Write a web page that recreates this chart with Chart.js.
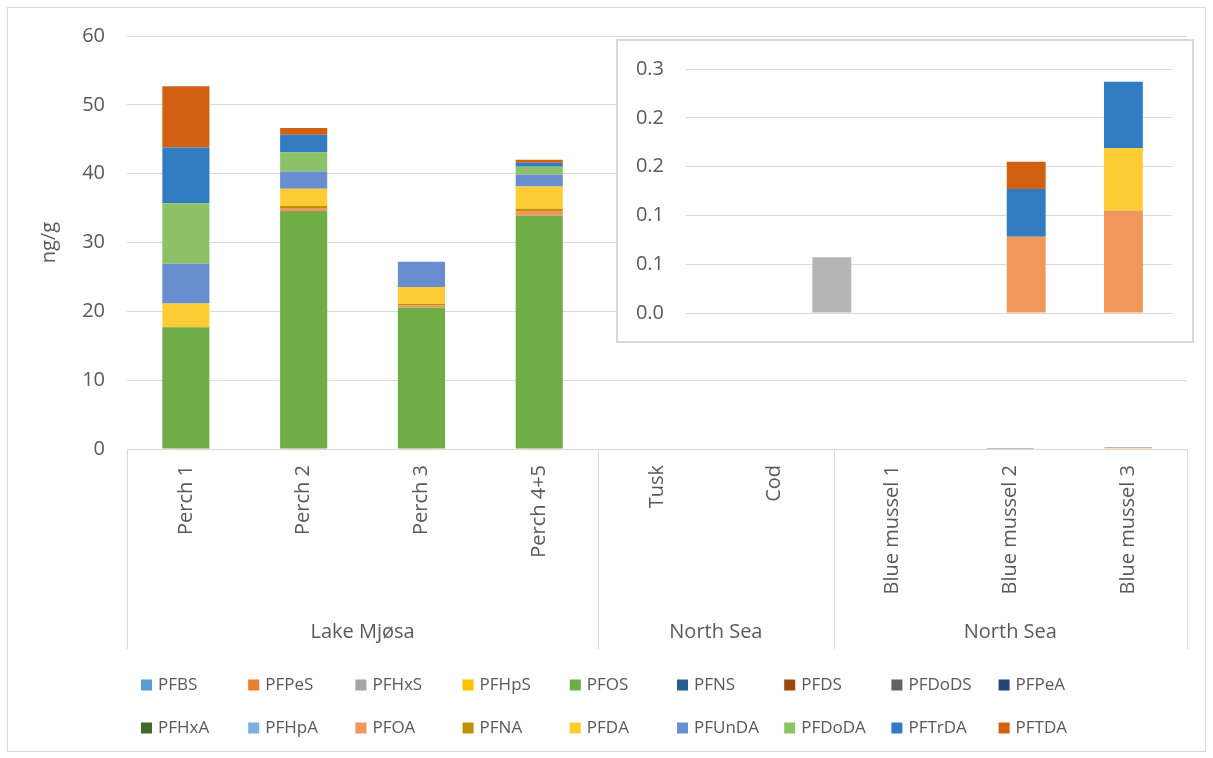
<!DOCTYPE html>
<html>
<head>
<meta charset="utf-8">
<script src="https://cdn.jsdelivr.net/npm/chart.js@4.4.1/dist/chart.umd.min.js"></script>
<style>
  html, body { margin:0; padding:0; background:#fff; }
  #wrap { position:relative; width:1213px; height:758px; overflow:hidden; }
  #frame { position:absolute; left:7px; top:7px; width:1199px; height:745px; border:1px solid #d9d9d9; box-sizing:border-box; }
  #main { position:absolute; left:0; top:0; }
  #inset-box { position:absolute; left:616px; top:39px; width:578px; height:304px; border:2px solid #d9d9d9; box-sizing:border-box; background:#fff; }
  #inset { position:absolute; left:0; top:0; }
</style>
</head>
<body>
<div id="wrap">
  <div id="frame"></div>
  <canvas id="main" width="1213" height="758"></canvas>
  <div id="inset-box"><canvas id="inset" width="574" height="300"></canvas></div>
</div>
<script>
// categories + groups (multi-level axis)
const categories = ['Perch 1','Perch 2','Perch 3','Perch 4+5','Tusk','Cod','Blue mussel 1','Blue mussel 2','Blue mussel 3'];
const groupLabels = ['Lake Mjøsa','North Sea','North Sea'];
const groupSizes = [4, 2, 3];
const insetStart = 4; // inset shows the North Sea samples only
const insetTicks = ['0.0','0.1','0.1','0.2','0.2','0.3'];

// series (ng/g)
const PFBS   = [0,0,0,0,0,0,0,0,0];
const PFPeS  = [0,0,0,0,0,0,0,0,0];
const PFHxS  = [0,0,0,0,0,0.057,0,0,0];
const PFHpS  = [0,0,0,0,0,0,0,0,0];
const PFOS   = [17.7,34.57,20.55,33.9,0,0,0,0,0];
const PFNS   = [0,0,0,0,0,0,0,0,0];
const PFDS   = [0,0,0,0,0,0,0,0,0];
const PFDoDS = [0,0,0,0,0,0,0,0,0];
const PFPeA  = [0,0,0,0,0,0,0,0,0];
const PFHxA  = [0,0,0,0,0,0,0,0,0];
const PFHpA  = [0,0,0,0,0,0,0,0,0];
const PFOA   = [0,0.44,0.34,0.67,0,0,0,0.078,0.105];
const PFNA   = [0,0.29,0.19,0.34,0,0,0,0,0];
const PFDA   = [3.43,2.51,2.47,3.24,0,0,0,0,0.064];
const PFUnDA = [5.8,2.52,3.67,1.7,0,0,0,0,0];
const PFDoDA = [8.76,2.76,0,1.16,0,0,0,0,0];
const PFTrDA = [8.12,2.56,0,0.58,0,0,0,0.049,0.068];
const PFTDA  = [8.9,0.97,0,0.43,0,0,0,0.028,0];

const seriesNames = ['PFBS','PFPeS','PFHxS','PFHpS','PFOS','PFNS','PFDS','PFDoDS','PFPeA',
                     'PFHxA','PFHpA','PFOA','PFNA','PFDA','PFUnDA','PFDoDA','PFTrDA','PFTDA'];
const seriesData = [PFBS,PFPeS,PFHxS,PFHpS,PFOS,PFNS,PFDS,PFDoDS,PFPeA,
                    PFHxA,PFHpA,PFOA,PFNA,PFDA,PFUnDA,PFDoDA,PFTrDA,PFTDA];
const seriesColors = ['#5B9BD5','#ED7D31','#A5A5A5','#FFC000','#70AD47','#255E91','#9E480E','#636363','#264478',
                      '#43682B','#7CAFDD','#F1975A','#BF9000','#FFCD33','#698ED0','#8CC168','#327DC2','#D26012'];
// the inset paints PFHxS a touch lighter
const insetColorFix = { PFHxS: '#B5B5B5' };

const FONT = "'Open Sans', sans-serif";
const TXT = '#595959';
const GRID = '#d9d9d9';

function makeSets(from, fix) {
  return seriesNames.map((name, i) => ({
    label: name,
    data: seriesData[i].slice(from),
    backgroundColor: (fix && fix[name]) || seriesColors[i],
    borderWidth: 0,
    barPercentage: 0.4,
    categoryPercentage: 1
  }));
}

// multi-level x axis: separators + group names
const groupAxis = {
  id: 'groupAxis',
  afterDraw(chart) {
    const { ctx, chartArea, scales: { x } } = chart;
    const step = x.getPixelForValue(1) - x.getPixelForValue(0);
    ctx.save();
    ctx.strokeStyle = GRID;
    ctx.lineWidth = 1;
    ctx.fillStyle = TXT;
    ctx.font = `20px ${FONT}`;
    ctx.textAlign = 'center';
    ctx.textBaseline = 'middle';
    let idx = 0;
    const edges = [x.getPixelForValue(0) - step / 2];
    groupSizes.forEach((n, g) => {
      const l = x.getPixelForValue(idx) - step / 2;
      const r = x.getPixelForValue(idx + n - 1) + step / 2;
      edges.push(r);
      ctx.fillText(groupLabels[g], (l + r) / 2, 632);
      idx += n;
    });
    edges.forEach(e => {
      const px = Math.round(e) + 0.5;
      ctx.beginPath();
      ctx.moveTo(px, chartArea.bottom);
      ctx.lineTo(px, x.bottom);
      ctx.stroke();
    });
    ctx.restore();
  }
};

// legend laid out on a 9-column grid like the original
const gridLegend = {
  id: 'gridLegend',
  afterDraw(chart) {
    const ctx = chart.ctx;
    ctx.save();
    ctx.font = `17px ${FONT}`;
    ctx.textBaseline = 'middle';
    ctx.textAlign = 'left';
    chart.data.datasets.forEach((ds, i) => {
      const col = i % 9, row = Math.floor(i / 9);
      const bx = 141 + col * 107.2;
      const by = row === 0 ? 685 : 728;
      ctx.fillStyle = ds.backgroundColor;
      ctx.fillRect(bx, by - 5.5, 11, 11);
      ctx.fillStyle = TXT;
      ctx.fillText(ds.label, bx + 17, by);
    });
    ctx.restore();
  }
};

new Chart(document.getElementById('main'), {
  type: 'bar',
  data: { labels: categories, datasets: makeSets(0) },
  plugins: [groupAxis, gridLegend],
  options: {
    responsive: false,
    animation: false,
    layout: { padding: { left: 0, top: 36, right: 26, bottom: 109 } },
    plugins: { legend: { display: false }, tooltip: { enabled: false } },
    scales: {
      x: {
        stacked: true,
        grid: { display: false, drawTicks: false },
        border: { display: false },
        ticks: { minRotation: 90, maxRotation: 90, autoSkip: false, padding: 16, color: TXT, font: { family: FONT, size: 20 } },
        afterFit(s) { s.height = 200; }
      },
      y: {
        stacked: true,
        min: 0, max: 60,
        ticks: { stepSize: 10, padding: 22, color: TXT, font: { family: FONT, size: 20 } },
        grid: { color: GRID, drawTicks: false },
        border: { display: false },
        title: { display: true, text: 'ng/g', color: TXT, font: { family: FONT, size: 20 }, padding: { top: 37 } },
        afterFit(s) { s.width = 127; }
      }
    }
  }
});

new Chart(document.getElementById('inset'), {
  type: 'bar',
  data: { labels: categories.slice(insetStart), datasets: makeSets(insetStart, insetColorFix) },
  options: {
    responsive: false,
    animation: false,
    layout: { padding: { left: 0, top: 28, right: 20, bottom: 28 } },
    plugins: { legend: { display: false }, tooltip: { enabled: false } },
    scales: {
      x: { stacked: true, display: false },
      y: {
        stacked: true,
        min: 0, max: 0.25,
        ticks: { stepSize: 0.05, padding: 0, color: TXT, font: { family: FONT, size: 20 },
                 callback: (v, i) => insetTicks[i] },
        // invisible tick marks give the label gap without growing the vertical padding
        grid: { color: GRID, drawTicks: true, tickLength: 22, tickColor: 'rgba(0,0,0,0)' },
        border: { display: false },
        afterFit(s) { s.width = 68; }
      }
    }
  }
});
</script>
</body>
</html>
